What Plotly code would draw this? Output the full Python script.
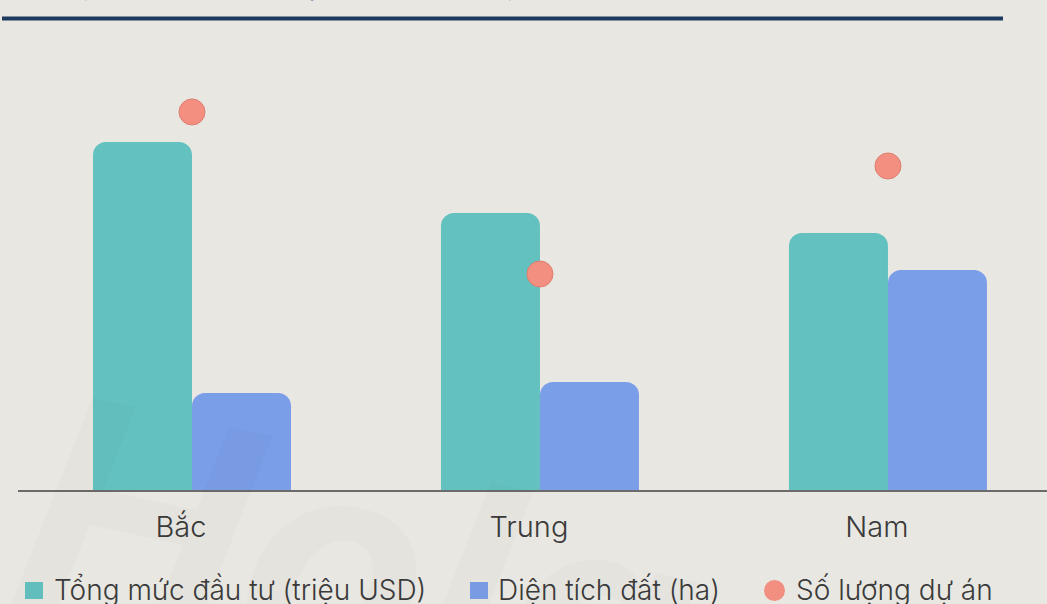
import plotly.graph_objects as go

# ---- data ----
regions = ["Bắc", "Trung", "Nam"]
investment_musd = [3480, 2770, 2570]   # Tổng mức đầu tư (triệu USD)
land_ha = [970, 1080, 2200]             # Diện tích đất (ha)
project_count = [35, 20, 30]            # Số lượng dự án

series_names = ["Tổng mức đầu tư (triệu USD)", "Diện tích đất (ha)", "Số lượng dự án"]
title_text = "Tổng quan đầu tư dự án theo vùng"

# ---- style ----
W, H = 1047, 604
ML, MR, MT, MB = 18, 0, 30, 114
PW, PH = W - ML - MR, H - MT - MB
BG = "#E8E7E2"
TEAL = "#63C2BF"
BLUE = "#7B9EE8"
SALMON = "#F28F80"
NAVY = "#1C3A5E"
TEXT = "#3A3A3A"
FONT = "Inter"


def px(x):
    return (x - ML) / PW


def py(y):
    return (H - MB - y) / PH


fig = go.Figure()
fig.add_trace(go.Bar(x=regions, y=investment_musd, name=series_names[0],
                     marker=dict(color=TEAL, cornerradius=13, line=dict(width=0)),
                     showlegend=False))
fig.add_trace(go.Bar(x=regions, y=land_ha, name=series_names[1],
                     marker=dict(color=BLUE, cornerradius=13, line=dict(width=0)),
                     showlegend=False))
fig.add_trace(go.Scatter(x=regions, y=project_count, name=series_names[2], yaxis="y2",
                         mode="markers",
                         marker=dict(color=SALMON, size=26, line=dict(color="#DE7E70", width=1)),
                         showlegend=False))

shapes = [
    # navy rule under the (cut-off) title
    dict(type="line", xref="paper", yref="paper", x0=px(2), x1=px(1003), y0=py(18.5), y1=py(18.5),
         line=dict(color=NAVY, width=4), layer="above"),
    # custom legend symbols
    dict(type="rect", xref="paper", yref="paper", x0=px(25), x1=px(43), y0=py(582), y1=py(599),
         fillcolor=TEAL, line=dict(width=0)),
    dict(type="rect", xref="paper", yref="paper", x0=px(470), x1=px(488), y0=py(582), y1=py(599),
         fillcolor=BLUE, line=dict(width=0)),
    dict(type="circle", xref="paper", yref="paper", x0=px(764), x1=px(785), y0=py(580), y1=py(601),
         fillcolor=SALMON, line=dict(width=0)),
]

annotations = [
    # faint background watermark
    dict(text="<b><i>Hola</i></b>", xref="paper", yref="paper", x=px(360), y=py(565),
         showarrow=False, textangle=12, font=dict(family=FONT, size=300, color="rgba(0,0,0,0.016)"),
         xanchor="center", yanchor="middle"),
    # title (mostly above the visible page)
    dict(text="<b>" + title_text + "</b>", xref="paper", yref="paper", x=px(20), y=py(3),
         showarrow=False, xanchor="left", yanchor="bottom",
         font=dict(family=FONT, size=30, color=NAVY)),
]
legend_x = [52, 496, 794]
for name, lx in zip(series_names, legend_x):
    annotations.append(dict(text=name, xref="paper", yref="paper", x=px(lx), y=py(590),
                            showarrow=False, xanchor="left", yanchor="middle",
                            font=dict(family=FONT, size=28, color=TEXT, weight=300)))

fig.update_layout(
    width=W, height=H,
    margin=dict(l=ML, r=MR, t=MT, b=MB, autoexpand=False),
    paper_bgcolor=BG, plot_bgcolor=BG,
    barmode="group", bargap=0.431, bargroupgap=0,
    showlegend=False,
    font=dict(family=FONT, color=TEXT),
    xaxis=dict(range=[-0.5, 2.457], showline=True, linecolor="#6B6B6B", linewidth=2,
               showgrid=False, zeroline=False, ticks="", fixedrange=True,
               tickfont=dict(family=FONT, size=29, color=TEXT, weight=300),
               ticklabelshift=-11, ticklabelstandoff=10),
    yaxis=dict(range=[0, 4600], visible=False, showgrid=False, zeroline=False),
    yaxis2=dict(range=[0, 42.59], overlaying="y", side="right", visible=False,
                showgrid=False, zeroline=False),
    shapes=shapes,
    annotations=annotations,
)

fig.write_html("out.html",
               config={"displayModeBar": False},
               post_script="document.body.style.margin='0';document.body.style.overflow='hidden';")
